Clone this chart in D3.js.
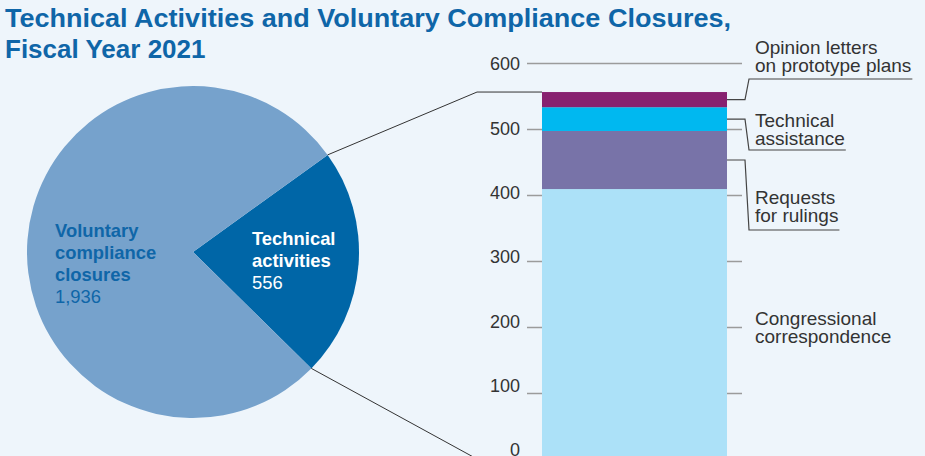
<!DOCTYPE html>
<html>
<head>
<meta charset="utf-8">
<script src="https://cdn.jsdelivr.net/npm/d3@7"></script>
<style>
  body { margin: 0; background: #eef5fb; }
  svg { display: block; font-family: "Liberation Sans", Arial, sans-serif; }
</style>
</head>
<body>
<svg id="chart" width="925" height="456"></svg>
<script>
// pie data
var pieLabels = [['Technical', 'activities'], ['Voluntary', 'compliance', 'closures']];
var pieValues = [556, 1936];

// stacked bar data (bottom to top)
var barCategories = ['Congressional correspondence', 'Requests for rulings', 'Technical assistance', 'Opinion letters on prototype plans'];
var barLabelLines = [['Congressional', 'correspondence'], ['Requests', 'for rulings'], ['Technical', 'assistance'], ['Opinion letters', 'on prototype plans']];
var barValues = [409, 88, 36, 23];
var yTicks = [0, 100, 200, 300, 400, 500, 600];

var svg = d3.select('#chart');

var title = svg.append('g')
  .attr('fill', '#0f66a8')
  .attr('font-weight', 'bold')
  .attr('font-size', 26);
title.append('text').attr('x', 5).attr('y', 27)
  .attr('textLength', 726).attr('lengthAdjust', 'spacingAndGlyphs')
  .text('Technical Activities and Voluntary Compliance Closures,');
title.append('text').attr('x', 5).attr('y', 58).text('Fiscal Year 2021');

// ---- pie ----
var cx = 193, cy = 252, r = 166;
var a0 = 54.2 * Math.PI / 180;
var pie = d3.pie().sort(null).startAngle(a0).endAngle(a0 + 2 * Math.PI);
var arcs = pie(pieValues);
var arc = d3.arc().innerRadius(0).outerRadius(r);
var pieColors = ['#0066a7', '#76a2cc'];

var pieG = svg.append('g').attr('transform', 'translate(' + cx + ',' + cy + ')');
pieG.selectAll('path')
  .data(arcs)
  .enter().append('path')
  .attr('d', arc)
  .attr('fill', function(d, i) { return pieColors[i]; });

function pieLabel(x, y, lines, value, color) {
  var t = svg.append('text').attr('x', x).attr('y', y).attr('font-size', 18.4).attr('fill', color);
  lines.forEach(function(l, i) {
    t.append('tspan').attr('x', x).attr('dy', i === 0 ? 0 : 22).attr('font-weight', 'bold').text(l);
  });
  t.append('tspan').attr('x', x).attr('dy', 22).text(d3.format(',')(value));
}
pieLabel(252, 245, pieLabels[0], pieValues[0], '#ffffff');
pieLabel(55, 237, pieLabels[1], pieValues[1], '#0f66a8');

// ---- bar ----
var y = d3.scaleLinear().domain([0, 600]).range([459, 63]);
var yLab = d3.scaleLinear().domain([0, 600]).range([450, 64]);
var barX0 = 542, barX1 = 727, gridX0 = 527, gridX1 = 742;

var axis = d3.axisLeft(y).tickValues(yTicks).tickSize(-(gridX1 - gridX0)).tickFormat('');
var axG = svg.append('g').attr('transform', 'translate(' + gridX0 + ',0)').call(axis);
axG.select('.domain').remove();
axG.selectAll('line').attr('stroke', '#9b9b9b').attr('stroke-width', 1.3);

svg.append('g').selectAll('text')
  .data(yTicks)
  .enter().append('text')
  .attr('x', 520)
  .attr('y', function(d) { return yLab(d); })
  .attr('dy', '0.35em')
  .attr('text-anchor', 'end')
  .attr('font-size', 18)
  .attr('fill', '#333')
  .text(function(d) { return d; });

var barColors = ['#ace1f8', '#7873a8', '#00b8f0', '#882270'];
var stack = [];
var acc = 0;
barValues.forEach(function(v, i) {
  stack.push({ key: barCategories[i], y0: acc, y1: acc + v, i: i });
  acc += v;
});
var total = acc;

svg.append('g').selectAll('rect')
  .data(stack)
  .enter().append('rect')
  .attr('x', barX0)
  .attr('width', barX1 - barX0)
  .attr('y', function(d) { return y(d.y1); })
  .attr('height', function(d) { return y(d.y0) - y(d.y1); })
  .attr('fill', function(d) { return barColors[d.i]; });

// connector lines pie -> bar
var pTop = [cx + r * Math.sin(arcs[0].startAngle), cy - r * Math.cos(arcs[0].startAngle)];
var pBot = [cx + r * Math.sin(arcs[0].endAngle), cy - r * Math.cos(arcs[0].endAngle)];
var line = d3.line();
svg.append('path')
  .attr('d', line([pTop, [477, y(total)], [barX0, y(total)]]))
  .attr('fill', 'none').attr('stroke', '#333').attr('stroke-width', 1);
svg.append('path')
  .attr('d', line([pBot, [477, y(0)], [barX0, y(0)]]))
  .attr('fill', 'none').attr('stroke', '#333').attr('stroke-width', 1);

// bar labels
var labelX = 755;
var labelBase = [325, 204, 127, 54];
var underlineY = [null, 230, 150, 79];
var labG = svg.append('g').attr('font-size', 19).attr('fill', '#333');
stack.forEach(function(d, i) {
  var t = labG.append('text').attr('x', labelX).attr('y', labelBase[i]);
  barLabelLines[i].forEach(function(l, j) {
    t.append('tspan').attr('x', labelX).attr('dy', j === 0 ? 0 : 18).text(l);
  });
  if (underlineY[i] === null) return;
  var w = d3.max(t.selectAll('tspan').nodes(), function(n) { return n.getComputedTextLength(); });
  var midY = y((d.y0 + d.y1) / 2);
  svg.append('path')
    .attr('d', line([[barX1, midY], [745, midY], [749, underlineY[i]], [labelX + w + 1, underlineY[i]]]))
    .attr('fill', 'none').attr('stroke', '#444').attr('stroke-width', 1.2);
});
</script>
</body>
</html>
